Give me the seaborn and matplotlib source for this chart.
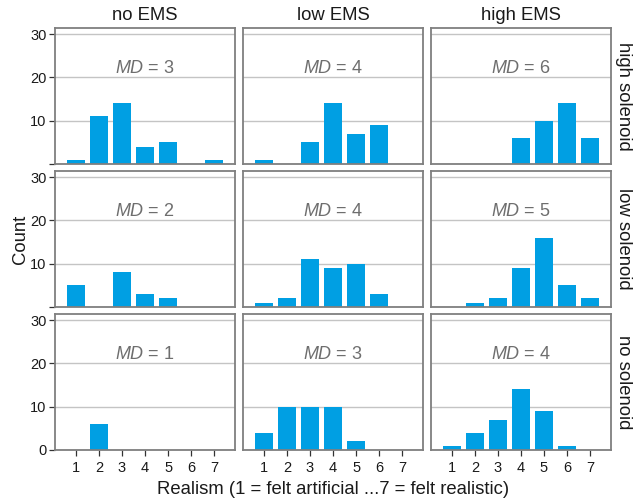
import numpy as np
import pandas as pd
import matplotlib
matplotlib.use('Agg')
import matplotlib.pyplot as plt
import seaborn as sns

ratings = [1, 2, 3, 4, 5, 6, 7]
ems_levels = ['no EMS', 'low EMS', 'high EMS']
solenoid_levels = ['high solenoid', 'low solenoid', 'no solenoid']

# counts per rating, one list per (solenoid, EMS) panel
high_sol_no_ems = [1, 11, 14, 4, 5, 0, 1]
high_sol_low_ems = [1, 0, 5, 14, 7, 9, 0]
high_sol_high_ems = [0, 0, 0, 6, 10, 14, 6]
low_sol_no_ems = [5, 0, 8, 3, 2, 0, 0]
low_sol_low_ems = [1, 2, 11, 9, 10, 3, 0]
low_sol_high_ems = [0, 1, 2, 9, 16, 5, 2]
no_sol_no_ems = [0, 6, 0, 0, 0, 0, 0]
no_sol_low_ems = [4, 10, 10, 10, 2, 0, 0]
no_sol_high_ems = [1, 4, 7, 14, 9, 1, 0]

medians = {
    ('high solenoid', 'no EMS'): 3, ('high solenoid', 'low EMS'): 4, ('high solenoid', 'high EMS'): 6,
    ('low solenoid', 'no EMS'): 2, ('low solenoid', 'low EMS'): 4, ('low solenoid', 'high EMS'): 5,
    ('no solenoid', 'no EMS'): 1, ('no solenoid', 'low EMS'): 3, ('no solenoid', 'high EMS'): 4,
}

counts = {
    ('high solenoid', 'no EMS'): high_sol_no_ems,
    ('high solenoid', 'low EMS'): high_sol_low_ems,
    ('high solenoid', 'high EMS'): high_sol_high_ems,
    ('low solenoid', 'no EMS'): low_sol_no_ems,
    ('low solenoid', 'low EMS'): low_sol_low_ems,
    ('low solenoid', 'high EMS'): low_sol_high_ems,
    ('no solenoid', 'no EMS'): no_sol_no_ems,
    ('no solenoid', 'low EMS'): no_sol_low_ems,
    ('no solenoid', 'high EMS'): no_sol_high_ems,
}

rows = []
for (sol, ems), vals in counts.items():
    for r, c in zip(ratings, vals):
        rows.append({'solenoid': sol, 'ems': ems, 'rating': r, 'count': c})
df = pd.DataFrame(rows)

sns.set_style('white')
plt.rcParams['font.family'] = ['Liberation Sans', 'DejaVu Sans']
plt.rcParams['mathtext.fontset'] = 'custom'
plt.rcParams['mathtext.it'] = 'Liberation Sans:italic'
plt.rcParams['mathtext.rm'] = 'Liberation Sans'

bar_color = '#009fe3'
frame_color = '#7f7f7f'
grid_color = '#c4c4c4'
label_size = 13.3

g = sns.FacetGrid(df, row='solenoid', col='ems', row_order=solenoid_levels,
                  col_order=ems_levels, sharex=True, sharey=True, despine=False)
g.figure.set_size_inches(6.33, 5.01)
g.map_dataframe(sns.barplot, x='rating', y='count', order=ratings,
                color=bar_color, width=0.78, linewidth=0, saturation=1)
g.set_titles('')

for i, sol in enumerate(solenoid_levels):
    for j, ems in enumerate(ems_levels):
        ax = g.axes[i, j]
        ax.set_xlim(-0.91, 6.91)
        ax.set_ylim(0, 31.4)
        ax.set_yticks([0, 10, 20, 30])
        ax.set_axisbelow(True)
        ax.yaxis.grid(True, color=grid_color, linewidth=1.0)
        ax.xaxis.grid(False)
        for s in ax.spines.values():
            s.set_color(frame_color)
            s.set_linewidth(1.3)
        ax.set_xlabel('')
        ax.set_ylabel('')
        ax.tick_params(axis='both', length=4, width=0.9, color='#333333',
                       labelsize=10.5, labelcolor='#1a1a1a')
        ax.tick_params(axis='y', pad=2)
        ax.tick_params(axis='x', pad=4)
        if j == 0:
            ax.tick_params(axis='y', left=True)
        else:
            ax.tick_params(axis='y', left=False, labelleft=False)
        if i == 2:
            ax.set_xticks(range(len(ratings)))
            ax.set_xticklabels([str(r) for r in ratings])
            ax.tick_params(axis='x', bottom=True)
        else:
            ax.tick_params(axis='x', bottom=False, labelbottom=False)
        md = medians[(sol, ems)]
        ax.text(3, 22, r'$\mathit{MD}$' + ' = ' + str(md), ha='center', va='center',
                fontsize=13, color='#6e6e6e')
        if i == 0:
            ax.set_title(ems, fontsize=label_size, color='#1a1a1a', pad=6)
        if j == 2:
            ax.text(1.022, 0.5, sol, transform=ax.transAxes, rotation=270,
                    ha='left', va='center', fontsize=label_size, color='#1a1a1a')

g.figure.subplots_adjust(left=55 / 633, right=611 / 633, top=1 - 28 / 501,
                         bottom=1 - 450 / 501, wspace=0.044, hspace=0.052)
g.figure.text(333 / 633, 1 - 489 / 501, 'Realism (1 = felt artificial ...7 = felt realistic)',
              ha='center', va='center', fontsize=label_size, color='#1a1a1a')
g.figure.text(20 / 633, 1 - 239 / 501, 'Count', rotation=90, ha='center', va='center',
              fontsize=label_size, color='#1a1a1a')

# hide the 0 label on the upper rows only (tick mark stays)
g.figure.canvas.draw()
for i in range(2):
    g.axes[i, 0].yaxis.get_major_ticks()[0].label1.set_visible(False)

g.figure.savefig('out.png', dpi=100)
